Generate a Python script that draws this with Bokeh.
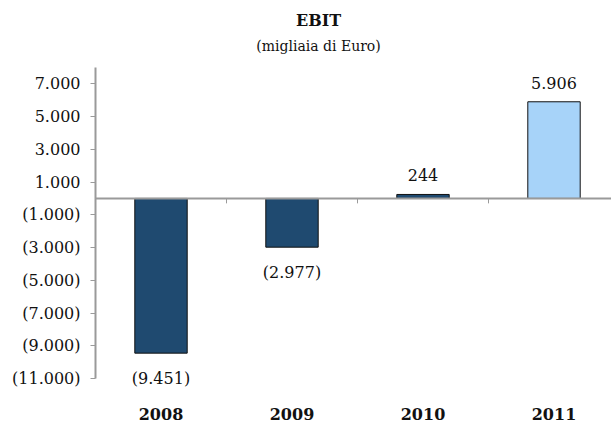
from bokeh.plotting import figure
from bokeh.models import Range1d, FixedTicker, Span, Label, LabelSet, ColumnDataSource
from bokeh.core.properties import value
from bokeh.embed import file_html
from bokeh.resources import INLINE

# ---- data ----
years = ["2008", "2009", "2010", "2011"]
ebit = [-9451, -2977, 244, 5906]
y_ticks = [-11000, -9000, -7000, -5000, -3000, -1000, 1000, 3000, 5000, 7000]
axis_min, axis_max = -11000, 8000
title_text = "EBIT"
subtitle_text = "(migliaia di Euro)"


def fmt(v):
    s = f"{abs(v):,}".replace(",", ".")
    return f"({s})" if v < 0 else s


FONT = "DejaVu Serif"
DARK = "#1F4A70"
LIGHT = "#A7D3F9"
GRAY = "#9A9A9A"
TXT = "#111111"

W, H = 611, 424
LEFT, BOTTOM_BORDER = 95, 29
AXIS_TOP_PX, AXIS_BOT_PX, FRAME_BOT_PX = 67, 378, H - BOTTOM_BORDER
k = (AXIS_BOT_PX - AXIS_TOP_PX) / (axis_max - axis_min)  # px per unit
y_end = axis_max + AXIS_TOP_PX / k
y_start = axis_min - (FRAME_BOT_PX - AXIS_BOT_PX) / k

p = figure(width=W, height=H, output_backend="svg", toolbar_location=None,
           x_range=Range1d(-0.5, -0.5 + (W - LEFT) / 131), y_range=Range1d(y_start, y_end),
           min_border_left=LEFT, min_border_right=0, min_border_top=0,
           min_border_bottom=BOTTOM_BORDER)
p.outline_line_color = None
p.xgrid.grid_line_color = None
p.ygrid.grid_line_color = None
p.background_fill_color = "white"
p.border_fill_color = "white"

xs = list(range(len(years)))
colors = [DARK] * (len(years) - 1) + [LIGHT]
src = ColumnDataSource(dict(x=xs, top=ebit, color=colors))
p.vbar(x="x", top="top", bottom=0, width=0.4, fill_color="color",
       line_color=TXT, line_width=1, source=src)

# zero line
p.add_layout(Span(location=0, dimension="width", line_color=GRAY, line_width=2, level="overlay"))
# category separator ticks
seps = [i + 0.5 for i in xs[:-1]]
p.segment(x0=seps, y0=[0] * len(seps), x1=seps, y1=[-300] * len(seps),
          line_color=GRAY, line_width=1)

# data labels
pos_src = ColumnDataSource(dict(x=[x for x, v in zip(xs, ebit) if v >= 0],
                                y=[v for v in ebit if v >= 0],
                                t=[fmt(v) for v in ebit if v >= 0]))
neg_src = ColumnDataSource(dict(x=[x for x, v in zip(xs, ebit) if v < 0],
                                y=[v for v in ebit if v < 0],
                                t=[fmt(v) for v in ebit if v < 0]))
p.add_layout(LabelSet(x="x", y="y", text="t", source=pos_src, text_align="center",
                      text_baseline="bottom", y_offset=13, text_font=value(FONT),
                      text_font_size="16px", text_color=TXT))
p.add_layout(LabelSet(x="x", y="y", text="t", source=neg_src, text_align="center",
                      text_baseline="top", y_offset=-16, text_font=value(FONT),
                      text_font_size="16px", text_color=TXT))

# y axis
ya = p.yaxis[0]
ya.ticker = FixedTicker(ticks=y_ticks)
ya.bounds = (axis_min, axis_max)
ya.major_label_overrides = {t: fmt(t) for t in y_ticks}
ya.axis_line_color = GRAY
ya.axis_line_width = 2
ya.major_tick_line_color = GRAY
ya.major_tick_out = 5
ya.major_tick_in = 0
ya.minor_tick_line_color = None
ya.major_label_standoff = 10
ya.major_label_text_font = FONT
ya.major_label_text_font_size = "16px"
ya.major_label_text_color = TXT

# x axis
xa = p.xaxis[0]
xa.ticker = FixedTicker(ticks=xs)
xa.major_label_overrides = {i: y for i, y in enumerate(years)}
xa.axis_line_color = None
xa.major_tick_line_color = None
xa.minor_tick_line_color = None
xa.major_label_standoff = 6
xa.major_label_text_font = FONT
xa.major_label_text_font_style = "bold"
xa.major_label_text_font_size = "16px"
xa.major_label_text_color = TXT

# titles (screen units relative to the frame's bottom-left corner)
p.add_layout(Label(x=318 - LEFT, y=FRAME_BOT_PX - 20, x_units="screen", y_units="screen",
                   text=title_text, text_align="center", text_baseline="middle",
                   text_font=FONT, text_font_style="bold", text_font_size="16px",
                   text_color=TXT))
p.add_layout(Label(x=318 - LEFT, y=FRAME_BOT_PX - 45, x_units="screen", y_units="screen",
                   text=subtitle_text, text_align="center", text_baseline="middle",
                   text_font=FONT, text_font_size="14px", text_color=TXT))

open("out.html", "w").write(file_html(p, INLINE))
